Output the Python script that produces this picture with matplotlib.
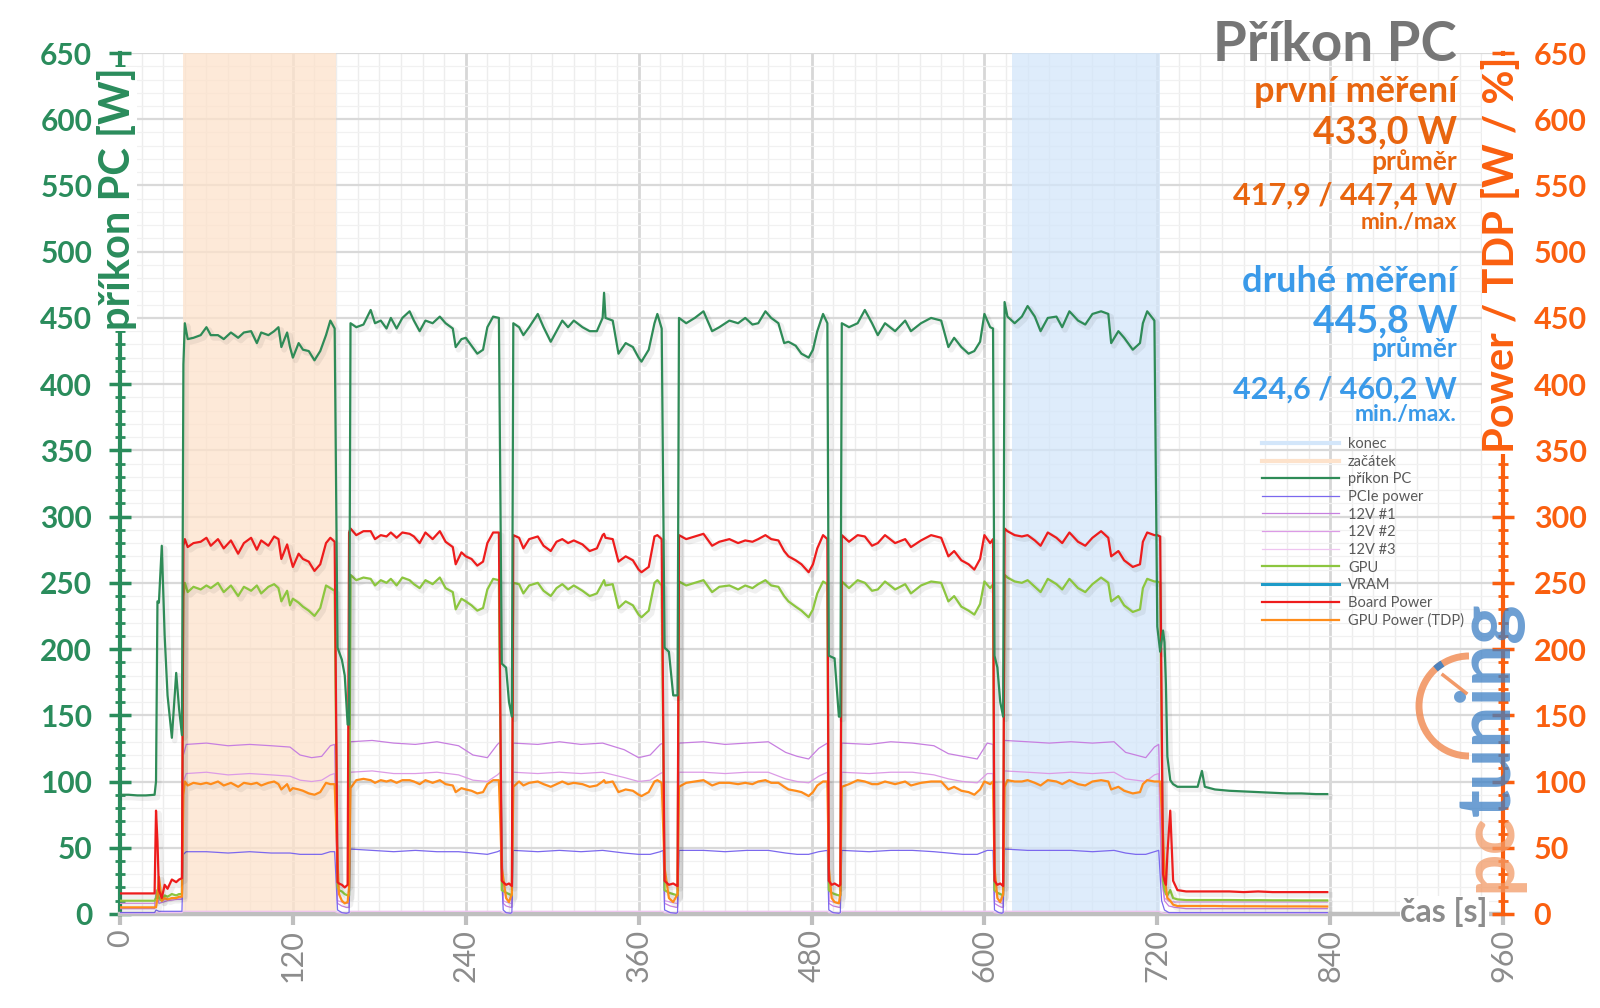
import matplotlib
matplotlib.use('Agg')
import matplotlib.pyplot as plt
from matplotlib.lines import Line2D
from matplotlib.ticker import MultipleLocator
from matplotlib import patheffects as pe
from matplotlib.patches import Arc
from matplotlib.transforms import IdentityTransform

plt.rcParams['font.family'] = ['Lato', 'DejaVu Sans']

# ---------------- data ----------------
x_ticks = [0, 120, 240, 360, 480, 600, 720, 840, 960]
y_ticks = [0, 50, 100, 150, 200, 250, 300, 350, 400, 450, 500, 550, 600, 650]

zacatek = [44, 150]    # first measurement window (s)
konec = [619, 722]     # second measurement window (s)

t = [0, 6, 12, 18, 24,
     25, 26, 27, 29, 31, 33, 36, 39, 41, 43, 44,
     45, 47, 51, 56, 60, 63, 68, 72, 77, 82, 86, 91, 95, 98, 103, 107, 110, 112, 116, 118, 120, 124, 127, 131, 135, 139, 143, 146, 149,
     151, 152, 154, 156, 158, 159,
     160, 164, 169, 174, 177, 181, 185, 188, 192, 196, 201, 204, 208, 212, 217, 222, 226, 231, 233, 237, 240, 244, 248, 252, 255, 259, 263,
     265, 268, 270, 272,
     273, 277, 280, 284, 290, 294, 299, 303, 307, 311, 315, 321, 326, 331, 335, 336, 337, 342, 346, 351, 356, 360, 362, 367, 371, 373, 376,
     378, 381, 384, 387,
     388, 393, 399, 405, 411, 416, 423, 429, 434, 439, 443, 448, 452, 457, 461, 464, 469, 473, 478, 481, 484, 488, 491,
     492, 494, 496, 499, 500,
     501, 506, 512, 517, 522, 526, 531, 538, 545, 549, 556, 563, 570, 575, 579, 584, 589, 593, 597, 600, 604, 606,
     607, 609, 611, 613,
     614, 616, 621, 626, 630, 635, 639, 644, 650, 654, 659, 665, 670, 675, 681, 686, 688, 693, 697, 703, 708, 710, 713, 718,
     720, 722, 724, 725, 726, 727, 729, 731, 734, 740, 748, 751, 753, 760, 770, 780, 790, 800, 810, 820, 830, 838]

prikon_pc = [90, 90, 89.5, 89.5, 90,
             100, 236, 235, 278, 210, 165, 133, 182, 155, 135, 415,
             446, 434, 435, 437, 443, 437, 437, 434, 439, 435, 439, 440, 431, 439, 437, 440, 443, 428, 439, 428, 420, 431, 426, 425, 418, 425, 437, 448, 442,
             201, 198, 192, 180, 143, 143,
             446, 443, 445, 456, 446, 448, 442, 450, 442, 450, 455, 448, 440, 448, 446, 451, 446, 442, 428, 434, 435, 429, 423, 426, 443, 451, 450,
             189, 186, 160, 149,
             446, 443, 437, 443, 453, 443, 432, 440, 448, 443, 448, 443, 440, 440, 450, 469, 450, 448, 423, 431, 428, 420, 417, 426, 446, 453, 442,
             201, 198, 165, 165,
             450, 446, 450, 455, 440, 443, 448, 446, 450, 445, 446, 455, 450, 446, 431, 432, 429, 423, 420, 426, 440, 453, 446,
             195, 194, 193, 149, 149,
             446, 443, 446, 456, 446, 437, 446, 440, 448, 440, 446, 450, 448, 428, 435, 428, 423, 425, 432, 453, 443, 442,
             195, 186, 160, 149,
             462, 451, 446, 451, 459, 451, 440, 450, 451, 443, 455, 448, 445, 453, 455, 453, 431, 440, 435, 426, 431, 446, 455, 448,
             217, 198, 214, 205, 173, 119, 101, 98, 96, 96, 96, 108, 96, 94, 93, 92.5, 92, 91.5, 91, 91, 90.5, 90.5]

board_power = [15.5, 15.5, 15.5, 15.5, 15.5,
               78, 55, 18, 12, 22, 19, 26, 24, 26, 27, 278,
               283, 277, 280, 281, 284, 278, 283, 276, 282, 272, 280, 284, 275, 282, 278, 285, 283, 268, 279, 270, 262, 272, 268, 266, 259, 264, 280, 284, 281,
               24, 23, 22, 20, 22, 288,
               291, 286, 289, 289, 283, 286, 285, 288, 284, 288, 287, 285, 280, 288, 283, 289, 281, 277, 264, 273, 270, 268, 263, 266, 280, 288, 288,
               25, 22, 23, 21,
               286, 284, 276, 283, 285, 278, 274, 281, 283, 280, 282, 279, 274, 276, 286, 287, 284, 283, 266, 270, 267, 260, 258, 262, 285, 286, 283,
               25, 22, 23, 21,
               286, 283, 285, 287, 278, 281, 283, 280, 282, 281, 283, 286, 283, 282, 274, 270, 267, 264, 258, 264, 276, 286, 283,
               25, 22, 23, 21, 22,
               286, 281, 286, 285, 278, 280, 286, 280, 283, 277, 282, 286, 284, 270, 274, 267, 264, 260, 268, 286, 280, 283,
               25, 22, 23, 21,
               291, 289, 286, 285, 286, 282, 278, 288, 284, 280, 288, 281, 278, 284, 289, 284, 270, 274, 267, 262, 264, 281, 288, 286,
               286, 285, 30, 25, 22, 45, 78, 25, 18, 17, 17, 17, 17, 17, 17, 16.5, 17, 16.5, 16.5, 16.5, 16.5, 16.5]

gpu = [10, 10, 10, 10, 10,
       12, 18, 12, 10, 14, 13, 15, 14, 15, 15, 240,
       250, 243, 247, 245, 248, 246, 250, 243, 248, 240, 247, 244, 248, 242, 247, 249, 246, 236, 244, 233, 238, 235, 232, 229, 225, 231, 248, 246, 244,
       20, 18, 17, 15, 14, 14,
       256, 252, 254, 253, 248, 252, 250, 253, 248, 254, 252, 249, 246, 252, 249, 254, 246, 243, 230, 238, 236, 233, 229, 231, 245, 253, 252,
       18, 16, 15, 14,
       250, 249, 242, 248, 250, 244, 240, 246, 249, 245, 248, 244, 240, 242, 250, 252, 248, 249, 231, 236, 233, 226, 224, 229, 250, 252, 248,
       18, 16, 15, 14,
       251, 248, 250, 252, 243, 247, 248, 245, 248, 246, 249, 252, 248, 247, 240, 236, 232, 229, 224, 230, 242, 251, 249,
       18, 16, 15, 14, 14,
       251, 246, 252, 250, 244, 245, 251, 245, 249, 242, 248, 251, 250, 236, 240, 232, 229, 226, 234, 251, 246, 249,
       18, 16, 15, 14,
       256, 254, 251, 250, 252, 247, 243, 253, 249, 245, 253, 246, 243, 249, 254, 250, 236, 240, 233, 228, 230, 246, 253, 251,
       251, 250, 25, 18, 15, 14, 18, 12, 11, 10.5, 10.5, 10.5, 10.5, 10.5, 10.5, 10.4, 10.4, 10.3, 10.3, 10.2, 10.2, 10.2]

gpu_tdp = [5, 5, 5, 5, 5,
           5, 12, 28, 10, 12, 11, 12, 12, 13, 13, 90,
           100, 97, 99, 98, 99, 98, 100, 97, 99, 96, 99, 98, 99, 97, 99, 100, 98, 94, 98, 93, 95, 94, 93, 91, 90, 92, 99, 98, 98,
           40, 15, 10, 8, 9, 20,
           95, 101, 102, 101, 99, 101, 100, 101, 99, 101, 101, 100, 98, 101, 99, 101, 98, 97, 92, 95, 94, 93, 91, 92, 98, 101, 101,
           35, 12, 9, 15,
           96, 100, 97, 99, 100, 98, 96, 98, 100, 98, 99, 98, 96, 97, 100, 101, 99, 100, 92, 94, 93, 90, 89, 92, 100, 101, 99,
           35, 12, 9, 15,
           96, 99, 100, 101, 97, 99, 99, 98, 99, 98, 100, 101, 99, 99, 96, 94, 93, 92, 89, 92, 97, 100, 100,
           35, 12, 9, 8, 15,
           96, 98, 101, 100, 98, 98, 100, 98, 100, 97, 99, 100, 100, 94, 96, 93, 92, 90, 94, 100, 98, 100,
           35, 12, 9, 15,
           96, 101, 100, 100, 101, 99, 97, 101, 100, 98, 101, 98, 97, 100, 101, 100, 94, 96, 93, 91, 92, 98, 101, 100,
           100, 100, 60, 35, 20, 12, 10, 7, 6, 6, 6, 6, 6, 6, 5.8, 5.8, 5.8, 5.7, 5.7, 5.7, 5.6, 5.6]

t2 = [0, 12, 24, 25, 27, 33, 40, 43, 44,
      46, 60, 75, 90, 105, 118, 125, 133, 140, 146, 149,
      151, 154, 157, 159,
      160, 175, 190, 205, 220, 235, 245, 255, 262, 264,
      266, 268, 271, 272,
      273, 290, 305, 320, 335, 350, 360, 368, 375, 377,
      378, 382, 386, 387,
      388, 405, 420, 435, 450, 462, 470, 478, 485, 491,
      492, 495, 499, 500,
      501, 520, 535, 550, 565, 575, 585, 595, 602, 606,
      607, 610, 612, 613,
      614, 630, 645, 660, 675, 690, 698, 705, 712, 718, 721,
      723, 725, 728, 732, 740, 780, 838]

v12_1 = [4, 4, 4, 18, 8, 10, 11, 11, 120,
         128, 129, 127, 128, 127, 126, 120, 118, 119, 127, 128,
         8, 6, 5, 5,
         130, 131, 129, 128, 130, 127, 120, 118, 128, 130,
         8, 6, 5, 5,
         129, 128, 130, 128, 129, 124, 118, 120, 128, 129,
         8, 6, 5, 5,
         129, 130, 128, 129, 130, 122, 119, 117, 125, 129,
         8, 6, 5, 5,
         129, 128, 130, 129, 127, 121, 119, 117, 129, 128,
         8, 6, 5, 5,
         131, 130, 129, 130, 129, 130, 122, 120, 118, 126, 128,
         30, 10, 6, 5, 4, 4, 4]

v12_2 = [8, 8, 8, 14, 10, 11, 12, 12, 100,
         106, 107, 105, 106, 105, 104, 101, 100, 101, 105, 106,
         10, 9, 8, 8,
         107, 108, 106, 106, 107, 105, 101, 100, 105, 107,
         10, 9, 8, 8,
         107, 106, 107, 106, 107, 103, 100, 101, 106, 107,
         10, 9, 8, 8,
         107, 107, 106, 107, 107, 102, 100, 99, 104, 107,
         10, 9, 8, 8,
         107, 106, 107, 107, 105, 102, 100, 99, 106, 106,
         10, 9, 8, 8,
         108, 107, 106, 107, 106, 107, 102, 101, 100, 105, 106,
         25, 12, 9.5, 9, 9, 9, 9]

v12_3 = [0.5, 0.5, 0.5, 1, 1, 1, 1, 1, 2,
         2, 2, 2, 2, 2, 2, 2, 2, 2, 2, 2,
         1, 0.5, 0.5, 0.5,
         2, 2, 2, 2, 2, 2, 2, 2, 2, 2,
         1, 0.5, 0.5, 0.5,
         2, 2, 2, 2, 2, 2, 2, 2, 2, 2,
         1, 0.5, 0.5, 0.5,
         2, 2, 2, 2, 2, 2, 2, 2, 2, 2,
         1, 0.5, 0.5, 0.5,
         2, 2, 2, 2, 2, 2, 2, 2, 2, 2,
         1, 0.5, 0.5, 0.5,
         2, 2, 2, 2, 2, 2, 2, 2, 2, 2, 2,
         1, 0.5, 0.5, 0.5, 0.5, 0.5, 0.5]

pcie = [1, 1, 1, 3, 2, 2, 2, 2, 45,
        47, 47, 46, 47, 46, 46, 45, 45, 45, 47, 47,
        3, 1, 0.5, 1,
        49, 48, 47, 48, 47, 47, 46, 45, 47, 48,
        3, 1, 0.5, 1,
        48, 47, 48, 47, 48, 46, 45, 45, 47, 48,
        3, 1, 0.5, 1,
        48, 48, 47, 48, 48, 46, 45, 45, 47, 48,
        3, 1, 0.5, 1,
        48, 47, 48, 48, 47, 46, 45, 45, 48, 48,
        3, 1, 0.5, 1,
        49, 48, 48, 48, 47, 48, 46, 45, 45, 47, 48,
        10, 3, 1, 1, 1, 1, 1]

vram = []  # not visible in the chart

legend_labels = ['konec', 'začátek', 'příkon PC', 'PCIe power', '12V #1', '12V #2', '12V #3',
                 'GPU', 'VRAM', 'Board Power', 'GPU Power (TDP)']

# ---------------- styling ----------------
GREEN = '#2a8c5c'
ORANGE_AX = '#fa5f0f'
ORANGE_TXT = '#e8650f'
BLUE_TXT = '#3a9ae9'
GRAY = '#8c8c8c'

c_konec = '#d3e6fa'
c_zac = '#fde2cb'
c_pc = '#2e8b57'
c_pcie = '#7b68ee'
c_12v1 = '#c77fe0'
c_12v2 = '#dc9be6'
c_12v3 = '#efc4f0'
c_gpu = '#8cc63f'
c_vram = '#1e9bc8'
c_board = '#ee1c1c'
c_tdp = '#ff8c1a'

fig = plt.figure(figsize=(16, 10.08), dpi=100)
ax = fig.add_axes([0.075, 0.0933, 0.8644, 0.8541])
ax.set_xlim(0, 960)
ax.set_ylim(0, 650)

ax.xaxis.set_major_locator(MultipleLocator(120))
ax.xaxis.set_minor_locator(MultipleLocator(15))
ax.yaxis.set_major_locator(MultipleLocator(50))
ax.yaxis.set_minor_locator(MultipleLocator(10))
ax.set_axisbelow(True)
ax.grid(which='major', axis='x', color='#d7d7d7', lw=2.0)
ax.grid(which='minor', axis='x', color='#ededed', lw=1.0)
ax.grid(which='major', axis='y', color='#d9d9d9', lw=1.6)
ax.grid(which='minor', axis='y', color='#f1f1f1', lw=0.9)

ax.axvspan(zacatek[0], zacatek[1], color=c_zac, alpha=0.75, lw=0, zorder=1)
ax.axvspan(konec[0], konec[1], color=c_konec, alpha=0.75, lw=0, zorder=1)

shadow = [pe.SimpleLineShadow(offset=(2, -2), shadow_color='k', alpha=0.06, linewidth=4), pe.Normal()]

l_12v3, = ax.plot(t2, v12_3, color=c_12v3, lw=0.9, zorder=3)
l_12v2, = ax.plot(t2, v12_2, color=c_12v2, lw=0.9, zorder=3)
l_12v1, = ax.plot(t2, v12_1, color=c_12v1, lw=0.9, zorder=3)
l_pcie, = ax.plot(t2, pcie, color=c_pcie, lw=0.9, zorder=3)
l_vram, = ax.plot(vram, vram, color=c_vram, lw=2.2, zorder=3)
l_gpu, = ax.plot(t, gpu, color=c_gpu, lw=1.6, zorder=4, path_effects=shadow)
l_tdp, = ax.plot(t, gpu_tdp, color=c_tdp, lw=1.6, zorder=4, path_effects=shadow)
l_board, = ax.plot(t, board_power, color=c_board, lw=1.6, zorder=5, path_effects=shadow)
l_pc, = ax.plot(t, prikon_pc, color=c_pc, lw=1.6, zorder=6, path_effects=shadow)

# spines
for s in ['top', 'right']:
    ax.spines[s].set_visible(False)
ax.spines['left'].set_color(GREEN)
ax.spines['left'].set_linewidth(3)
ax.spines['bottom'].set_color('#bfbfbf')
ax.spines['bottom'].set_linewidth(3.2)

ax.set_xticks(x_ticks)
ax.set_xticklabels([str(v) for v in x_ticks], rotation=90, fontsize=22, color=GRAY)
ax.tick_params(axis='x', which='major', direction='out', length=8, width=3, color='#bfbfbf', pad=3)
ax.tick_params(axis='x', which='minor', length=0)

ax.set_yticks(y_ticks)
ax.set_yticklabels([str(v) for v in y_ticks], fontsize=21.5, color=GREEN, fontweight='bold')
ax.tick_params(axis='y', which='major', direction='inout', length=16, width=2.5, color=GREEN, pad=12)
ax.tick_params(axis='y', which='minor', direction='inout', length=7, width=2, color=GREEN)

ax2 = ax.twinx()
ax2.set_ylim(0, 650)
ax2.yaxis.set_minor_locator(MultipleLocator(10))
for s in ['top', 'left', 'bottom']:
    ax2.spines[s].set_visible(False)
ax2.spines['right'].set_color(ORANGE_AX)
ax2.spines['right'].set_linewidth(3)
ax2.set_yticks(y_ticks)
ax2.set_yticklabels([str(v) for v in y_ticks], fontsize=22, color=ORANGE_AX, fontweight='bold')
ax2.tick_params(axis='y', which='major', direction='inout', length=16, width=2.5, color=ORANGE_AX, pad=14)
ax2.tick_params(axis='y', which='minor', direction='inout', length=7, width=2, color=ORANGE_AX)

# axis labels
def fx(px):
    return px / 1600.0

def fy(py):
    return 1 - py / 1008.0

fig.text(fx(117), fy(199), 'příkon PC [W]', rotation=90, ha='center', va='center',
         color=GREEN, fontsize=30, fontweight='bold', zorder=20,
         bbox=dict(fc='white', ec='none', pad=0.3))
fig.text(fx(1502), fy(255), 'Power / TDP [W / %]', rotation=90, ha='center', va='center',
         color=ORANGE_AX, fontsize=30, fontweight='bold', zorder=20,
         bbox=dict(fc='white', ec='none', pad=0.3))

# watermark logo (pctuning)
pc_txt = fig.text(fx(1489), fy(892), 'pc', rotation=90, ha='center', va='bottom', fontsize=54,
                  fontweight='bold', color='#f29a66', alpha=0.75, zorder=1)
ax2.annotate('tuning', xy=(0.5, 0.97), xycoords=pc_txt, rotation=90, ha='center', va='bottom',
             fontsize=54, fontweight='bold', color='#3c7fc4', alpha=0.75, annotation_clip=False)
fig.add_artist(Arc((1469, 1008 - 706), 100, 100, theta1=90, theta2=270, transform=IdentityTransform(),
                   color='#f0884f', lw=5, alpha=0.8))
fig.add_artist(Arc((1469, 1008 - 706), 100, 100, theta1=122, theta2=132, transform=IdentityTransform(),
                   color='#3c7fc4', lw=5, alpha=0.9))
fig.add_artist(Line2D([1443, 1466], [1008 - 675, 1008 - 693], transform=IdentityTransform(),
                      color='#f0884f', lw=2.5, alpha=0.85))

fig.text(fx(1488), fy(912), 'čas [s]', ha='right', va='center', color=GRAY, fontsize=23,
         fontweight='bold', zorder=20, bbox=dict(fc='white', ec='none', pad=0.5))

# annotation block (top right)
xr = fx(1457)
fig.text(xr, fy(45), 'Příkon PC', ha='right', va='center', color='#767676', fontsize=39.5, fontweight='bold')
blocks = [
    ('první měření', 91, 26, ORANGE_TXT),
    ('433,0 W', 132, 27, ORANGE_TXT),
    ('průměr', 162, 19, ORANGE_TXT),
    ('417,9 / 447,4 W', 196, 22, ORANGE_TXT),
    ('min./max', 222, 16.5, ORANGE_TXT),
    ('druhé měření', 281, 26, BLUE_TXT),
    ('445,8 W', 321, 27, BLUE_TXT),
    ('průměr', 349, 19, BLUE_TXT),
    ('424,6 / 460,2 W', 390, 22, BLUE_TXT),
    ('min./max.', 415, 16.5, BLUE_TXT),
]
for txt, yy, fs, col in blocks:
    fig.text(xr, fy(yy), txt, ha='right', va='center', color=col, fontsize=fs, fontweight='bold')

# legend
handles = [Line2D([], [], color=c_konec, lw=3), Line2D([], [], color=c_zac, lw=3),
           l_pc, l_pcie, l_12v1, l_12v2, l_12v3, l_gpu, l_vram, l_board, l_tdp]
leg = fig.legend(handles, legend_labels, loc='upper left', bbox_to_anchor=(fx(1262), fy(437)),
                 frameon=False, fontsize=10.5, labelspacing=0.25, handlelength=5.3,
                 handletextpad=0.6, borderpad=0, borderaxespad=0)
for tx in leg.get_texts():
    tx.set_color('#595959')
for h in leg.legend_handles:
    h.set_path_effects([])

fig.savefig('out.png', dpi=100, facecolor='white')
